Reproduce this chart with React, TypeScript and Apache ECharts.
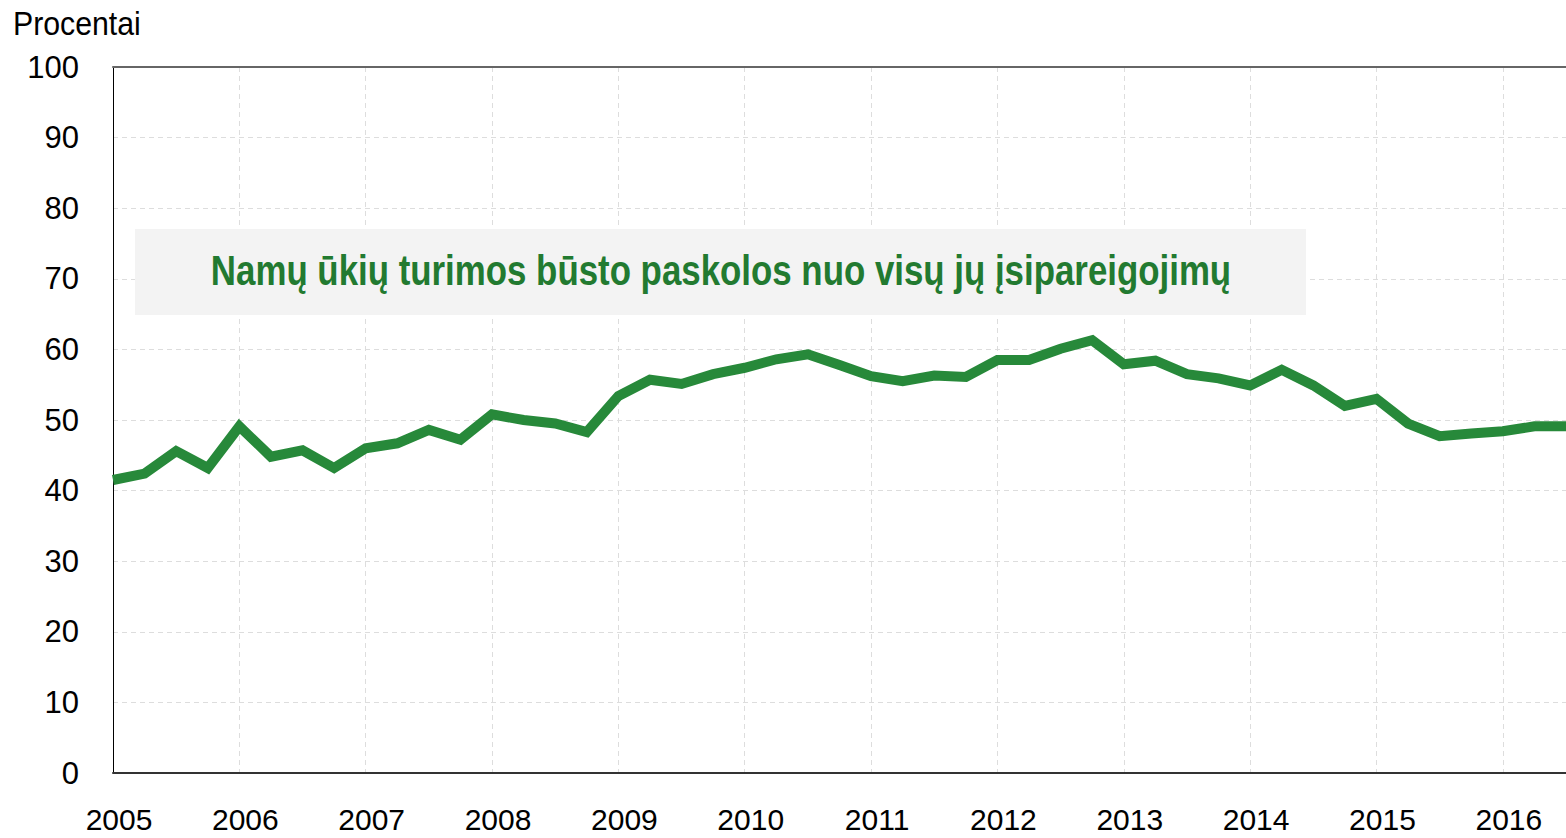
import React, { useEffect, useRef } from "react";
import * as echarts from "echarts";

const quarters: string[] = [];
for (let y = 2005; y <= 2016; y++) {
  for (let q = 1; q <= 4; q++) {
    if (y === 2016 && q > 3) break;
    quarters.push(`${y} Q${q}`);
  }
}

const values = [
  41.5, 42.4, 45.6, 43.2, 49.1, 44.8, 45.7, 43.2,
  46.0, 46.7, 48.6, 47.2, 50.8, 50.0, 49.5, 48.3,
  53.4, 55.7, 55.1, 56.5, 57.4, 58.6, 59.3, 57.8,
  56.2, 55.5, 56.3, 56.1, 58.5, 58.5, 60.1, 61.3,
  57.9, 58.4, 56.5, 55.9, 54.9, 57.1, 54.9, 52.0,
  53.0, 49.5, 47.7, 48.1, 48.4, 49.1, 49.1,
];

const yTicks = [0, 10, 20, 30, 40, 50, 60, 70, 80, 90, 100];
const titleText = "Namų ūkių turimos būsto paskolos nuo visų jų įsipareigojimų";
const unitText = "Procentai";

const FONT = '"Liberation Sans Narrow", "Arial Narrow", "Liberation Sans", Arial, sans-serif';

export default function App() {
  const ref = useRef<HTMLDivElement>(null);
  useEffect(() => {
    if (!ref.current) return;
    const chart = echarts.init(ref.current, undefined, { renderer: "svg" });
    chart.setOption({
      animation: false,
      backgroundColor: "#ffffff",
      grid: { left: 113, right: 0, top: 67, bottom: 65, containLabel: false },
      xAxis: [
        {
          type: "category",
          data: quarters,
          boundaryGap: false,
          axisLine: { show: true, lineStyle: { color: "#333333", width: 2 } },
          axisTick: { show: false },
          axisLabel: {
            interval: 3,
            margin: 31,
            color: "#000000",
            fontFamily: FONT,
            fontSize: 30,
            lineHeight: 30,
            padding: [0, 0, 0, 12],
            formatter: (v: string) => v.slice(0, 4),
          },
          splitLine: {
            show: true,
            interval: 3,
            lineStyle: { color: "#dddddd", type: [5, 4], width: 1 },
          },
        },
        {
          type: "category",
          data: quarters,
          position: "top",
          boundaryGap: false,
          axisLine: { show: true, lineStyle: { color: "#666666", width: 2 } },
          axisTick: { show: false },
          axisLabel: { show: false },
          splitLine: { show: false },
        },
      ],
      yAxis: {
        type: "value",
        min: yTicks[0],
        max: yTicks[yTicks.length - 1],
        interval: 10,
        axisLine: { show: true, lineStyle: { color: "#000000", width: 1 } },
        axisTick: { show: false },
        axisLabel: {
          margin: 34,
          color: "#000000",
          fontFamily: FONT,
          fontSize: 31,
        },
        splitLine: {
          show: true,
          lineStyle: { color: "#dddddd", type: [5, 4], width: 1 },
        },
      },
      series: [
        {
          type: "line",
          data: values,
          xAxisIndex: 0,
          showSymbol: false,
          symbol: "none",
          lineStyle: { color: "#27893a", width: 10, join: "miter" },
          z: 5,
        },
      ],
      graphic: [
        {
          type: "rect",
          shape: { x: 135, y: 229, width: 1171, height: 86 },
          style: { fill: "#f3f3f3" },
          z: 1,
        },
        {
          type: "text",
          x: 721,
          y: 270,
          scaleX: 0.83,
          style: {
            text: titleText,
            fill: "#227a30",
            font: `bold 42px ${FONT}`,
            textAlign: "center",
            textVerticalAlign: "middle",
          },
          z: 2,
        },
        {
          type: "text",
          x: 13,
          y: 23,
          scaleX: 0.89,
          style: {
            text: unitText,
            fill: "#000000",
            font: `34px ${FONT}`,
            textAlign: "left",
            textVerticalAlign: "middle",
          },
        },
      ],
    });
    return () => chart.dispose();
  }, []);
  return (
    <div
      ref={ref}
      style={{ position: "fixed", left: 0, top: 0, width: 1566, height: 838 }}
    />
  );
}
